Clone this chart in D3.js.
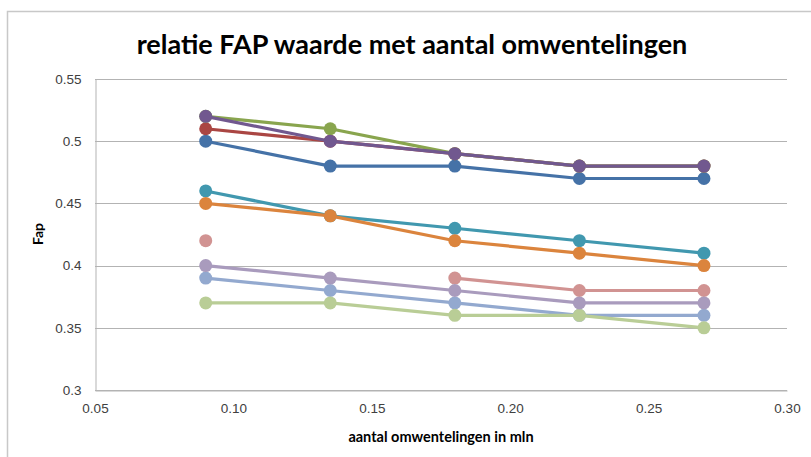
<!DOCTYPE html>
<html>
<head>
<meta charset="utf-8">
<script src="https://cdn.jsdelivr.net/npm/d3@7"></script>
<style>
  html, body { margin: 0; padding: 0; background: #fff; }
  svg { display: block; font-family: Lato, "Open Sans", sans-serif; }
</style>
</head>
<body>
<svg id="chart" width="811" height="457"></svg>
<script>
// Measurements: revolutions (millions) against FAP value
const xValues = [0.09, 0.135, 0.18, 0.225, 0.27];
const seriesNames = ["s1", "s2", "s3", "s4", "s5", "s6", "s7", "s8", "s9", "s10"];
const seriesValues = [
  [0.50, 0.48, 0.48, 0.47, 0.47],
  [0.51, 0.50, 0.49, 0.48, 0.48],
  [0.52, 0.51, 0.49, 0.48, 0.48],
  [0.52, 0.50, 0.49, 0.48, 0.48],
  [0.46, 0.44, 0.43, 0.42, 0.41],
  [0.45, 0.44, 0.42, 0.41, 0.40],
  [0.39, 0.38, 0.37, 0.36, 0.36],
  [0.42, null, 0.39, 0.38, 0.38],
  [0.37, 0.37, 0.36, 0.36, 0.35],
  [0.40, 0.39, 0.38, 0.37, 0.37]
];
const seriesColors = ["#4572A7", "#AA4643", "#89A54E", "#71588F", "#4198AF",
                      "#DB843D", "#93A9CF", "#D19392", "#B9CD96", "#A99BBD"];
const xTicks = [0.05, 0.10, 0.15, 0.20, 0.25, 0.30];
const yTicks = [0.3, 0.35, 0.4, 0.45, 0.5, 0.55];

const svg = d3.select("#chart");

// chart frame
svg.append("rect")
  .attr("x", 7.5).attr("y", 11.5).attr("width", 830).attr("height", 460)
  .attr("fill", "#fff").attr("stroke", "#c8c8c8").attr("stroke-width", 1.5);

const plot = { left: 95, right: 787, top: 79, bottom: 390 };

const x = d3.scaleLinear().domain([0.05, 0.30]).range([plot.left, plot.right]);
const y = d3.scaleLinear().domain([0.3, 0.55]).range([plot.bottom, plot.top]);

// gridlines
svg.append("g")
  .selectAll("line")
  .data(yTicks)
  .join("line")
  .attr("x1", plot.left).attr("x2", plot.right)
  .attr("y1", d => Math.round(y(d)) + 0.5).attr("y2", d => Math.round(y(d)) + 0.5)
  .attr("stroke", "#b3b3b3").attr("stroke-width", 1);

// y axis
const yAxis = svg.append("g")
  .attr("transform", `translate(${plot.left + 0.5},0)`)
  .call(d3.axisLeft(y).tickValues(yTicks).tickSize(0).tickPadding(14)
    .tickFormat(d => String(+d.toFixed(2))));
yAxis.select(".domain").attr("stroke", "#b3b3b3");
yAxis.selectAll("text").attr("font-size", 13.5).attr("fill", "#404040");

// x axis
const xAxis = svg.append("g")
  .attr("transform", `translate(0,${Math.round(plot.bottom) + 0.5})`)
  .call(d3.axisBottom(x).tickValues(xTicks).tickSize(0).tickPadding(13)
    .tickFormat(d3.format(".2f")));
xAxis.select(".domain").attr("stroke", "#b3b3b3");
xAxis.selectAll("text").attr("font-size", 13.5).attr("fill", "#404040");

// series
const line = d3.line()
  .defined(d => d.v != null)
  .x(d => x(d.x))
  .y(d => y(d.v));

seriesValues.forEach((vals, i) => {
  const pts = vals.map((v, j) => ({ x: xValues[j], v }));
  const g = svg.append("g").attr("class", "series " + seriesNames[i]);
  g.append("path")
    .datum(pts)
    .attr("d", line)
    .attr("fill", "none")
    .attr("stroke", seriesColors[i])
    .attr("stroke-width", 3.2)
    .attr("stroke-linejoin", "round");
  g.selectAll("circle")
    .data(pts.filter(d => d.v != null))
    .join("circle")
    .attr("cx", d => x(d.x))
    .attr("cy", d => y(d.v))
    .attr("r", 6.5)
    .attr("fill", seriesColors[i]);
});

// titles
svg.append("text")
  .attr("x", 412).attr("y", 54)
  .attr("text-anchor", "middle")
  .attr("font-size", 27).attr("font-weight", "bold")
  .attr("fill", "#000")
  .text("relatie FAP waarde met aantal omwentelingen");

svg.append("text")
  .attr("transform", "translate(43,234) rotate(-90)")
  .attr("text-anchor", "middle")
  .attr("font-size", 14).attr("font-weight", "bold")
  .attr("fill", "#000")
  .text("Fap");

svg.append("text")
  .attr("x", 441).attr("y", 442)
  .attr("text-anchor", "middle")
  .attr("font-size", 14.5).attr("font-weight", "bold")
  .attr("fill", "#000")
  .text("aantal omwentelingen in mln");
</script>
</body>
</html>
